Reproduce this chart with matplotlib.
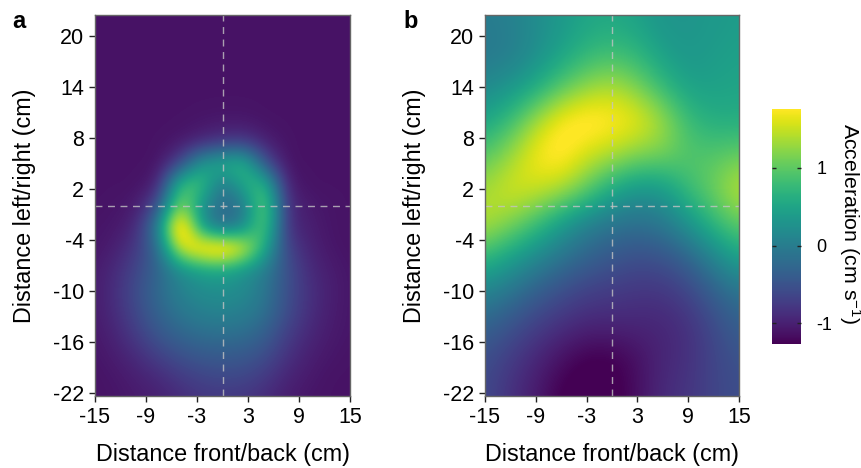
import numpy as np
import matplotlib
matplotlib.use('Agg')
import matplotlib.pyplot as plt

plt.rcParams['font.family'] = ['Liberation Sans', 'DejaVu Sans']
plt.rcParams['axes.unicode_minus'] = False
plt.rcParams['mathtext.fontset'] = 'custom'
plt.rcParams['mathtext.rm'] = 'Liberation Sans'
plt.rcParams['mathtext.default'] = 'regular'
plt.rcParams['lines.scale_dashes'] = False

x_ticks = [-15, -9, -3, 3, 9, 15]
y_ticks = [-22, -16, -10, -4, 2, 8, 14, 20]
cbar_ticks = [-1, 0, 1]
vmin, vmax = -1.27, 1.76

# panel a: x every 2.5 cm (-15..15), y every 2.5 cm (22.5..-22.5)
# bicubic smooths, so the ring values sit a bit further from their neighbours than the picture shows
a_x = np.arange(-15, 15.1, 2.5)
a_y = np.arange(22.5, -22.6, -2.5)
bg = -1.12
a_vals = np.array([
    [bg, bg, bg, bg, bg, bg, bg, bg, bg, bg, bg, bg, bg],
    [bg, bg, bg, bg, bg, bg, bg, bg, bg, bg, bg, bg, bg],
    [bg, bg, bg, bg, bg, bg, bg, bg, bg, bg, bg, bg, bg],
    [bg, bg, bg, bg, bg, bg, bg, bg, bg, bg, bg, bg, bg],
    [bg, bg, bg, bg, bg, bg, bg, bg, bg, bg, bg, bg, bg],
    [bg, bg, bg, bg, bg, -1.1, -1.08, -1.08, bg, bg, bg, bg, bg],
    [bg, bg, bg, bg, -1.08, -0.95, -0.8, -0.75, -1.0, bg, bg, bg, bg],
    [bg, bg, bg, bg, -0.65, 0.4, 0.63, 0.8, -0.5, bg, bg, bg, bg],
    [bg, bg, bg, -1.0, 0.9, 0.9, -0.19, 0.6, 0.85, -1.0, bg, bg, bg],
    [bg, -1.1, -1.05, -0.5, 1.35, 0.27, -0.3, -0.13, 1.28, -0.85, -1.05, -1.1, bg],
    [-1.1, -1.08, -0.9, 0.1, 2.45, 0.35, -0.29, 0.14, 1.15, -0.85, -1.0, -1.1, bg],
    [-1.1, -1.0, -0.75, -0.2, 1.6, 2.04, 2.25, 1.75, 0.55, -0.63, -0.95, -1.08, bg],
    [-1.05, -0.9, -0.62, -0.29, 0.19, 0.43, 0.5, 0.28, 0.0, -0.5, -0.88, -1.03, -1.1],
    [-1.05, -0.85, -0.55, -0.22, 0.06, 0.2, 0.23, 0.18, -0.07, -0.52, -0.83, -1.0, -1.1],
    [-1.05, -0.88, -0.6, -0.3, -0.08, 0.05, 0.08, 0.03, -0.15, -0.55, -0.85, -1.02, -1.1],
    [-1.08, -0.95, -0.72, -0.45, -0.28, -0.18, -0.15, -0.18, -0.35, -0.7, -0.92, -1.05, -1.1],
    [-1.1, -1.02, -0.88, -0.68, -0.52, -0.42, -0.4, -0.42, -0.55, -0.82, -1.0, -1.08, bg],
    [bg, -1.08, -1.0, -0.9, -0.75, -0.65, -0.6, -0.62, -0.75, -0.95, -1.05, bg, bg],
    [bg, -1.1, -1.05, -1.0, -0.9, -0.8, -0.78, -0.8, -0.9, -1.02, -1.1, bg, bg],
])

# panel b: x every 3 cm (-15..15), y every 4 cm (22..-22)
b_x = np.arange(-15, 15.1, 3)
b_y = np.arange(22, -22.1, -4)
b_vals = np.array([
    [0.0, 0.05, 0.2, 0.35, 0.5, 0.55, 0.45, 0.3, 0.3, 0.35, 0.4],
    [-0.05, 0.0, 0.2, 0.45, 0.7, 0.8, 0.7, 0.42, 0.32, 0.4, 0.45],
    [0.15, 0.3, 0.55, 0.95, 1.25, 1.4, 1.15, 0.75, 0.45, 0.45, 0.5],
    [0.5, 0.8, 1.35, 1.8, 1.95, 1.85, 1.72, 1.35, 0.8, 0.6, 0.6],
    [0.95, 1.3, 1.75, 1.9, 1.55, 1.4, 1.2, 1.15, 0.95, 0.95, 1.05],
    [1.35, 1.6, 1.55, 1.4, 1.05, 0.55, 0.3, 0.35, 0.8, 1.1, 1.5],
    [1.45, 1.2, 0.85, 0.4, 0.05, -0.1, -0.15, -0.05, 0.3, 0.75, 1.05],
    [0.75, 0.45, 0.15, -0.1, -0.3, -0.45, -0.55, -0.5, -0.3, 0.1, 0.5],
    [0.1, -0.1, -0.35, -0.55, -0.7, -0.75, -0.8, -0.8, -0.65, -0.35, -0.1],
    [-0.3, -0.5, -0.7, -0.85, -0.95, -0.95, -0.95, -0.95, -0.85, -0.6, -0.35],
    [-0.55, -0.75, -0.95, -1.15, -1.3, -1.3, -1.15, -0.95, -0.85, -0.65, -0.5],
    [-0.6, -0.85, -1.05, -1.3, -1.4, -1.35, -1.15, -0.9, -0.8, -0.65, -0.55],
])

W, H = 862, 468
fig = plt.figure(figsize=(W / 100, H / 100), dpi=100)


def px_axes(left, top, right, bottom):
    return fig.add_axes([left / W, 1 - bottom / H, (right - left) / W, (bottom - top) / H])


def draw_panel(ax, xs, ys, vals):
    dx = xs[1] - xs[0]
    dy = ys[0] - ys[1]
    im = ax.imshow(vals, cmap='viridis', vmin=vmin, vmax=vmax, interpolation='bicubic', aspect='auto',
                   extent=[xs[0] - dx / 2, xs[-1] + dx / 2, ys[-1] - dy / 2, ys[0] + dy / 2])
    ax.set_xlim(-15, 15)
    ax.set_ylim(-22.35, 22.45)
    ax.axhline(0, color='#c4c4c4', lw=1, alpha=0.8, ls=(0, (5, 4)))
    ax.axvline(0, color='#c4c4c4', lw=1, alpha=0.8, ls=(0, (5, 4)))
    ax.set_xticks(x_ticks)
    ax.set_yticks(y_ticks)
    ax.tick_params(labelsize=15.5, length=4, width=1, color='#222222', pad=4)
    ax.set_xlabel('Distance front/back (cm)', fontsize=16.8, labelpad=11)
    ax.set_ylabel('Distance left/right (cm)', fontsize=16.8, labelpad=12)
    for s in ax.spines.values():
        s.set_color('#666666')
        s.set_linewidth(1)
    return im


ax_a = px_axes(95, 15, 350, 396)
ax_b = px_axes(485, 15, 739, 396)
im = draw_panel(ax_a, a_x, a_y, a_vals)
draw_panel(ax_b, b_x, b_y, b_vals)

fig.text(12 / W, 1 - 21 / H, 'a', fontsize=17, fontweight='bold', va='center')
fig.text(403 / W, 1 - 21 / H, 'b', fontsize=17, fontweight='bold', va='center')

cax = px_axes(772, 109, 801, 344)
cb = fig.colorbar(im, cax=cax)
cb.set_ticks(cbar_ticks)
cb.outline.set_visible(False)
cax.tick_params(labelsize=13, direction='in', left=True, right=True, length=3, width=1, color='#222222', pad=11)
cb.set_label('Acceleration (cm s$^{-1}$)', fontsize=15.4, rotation=270, labelpad=22, y=0.51)

fig.savefig('out.png', dpi=100)
